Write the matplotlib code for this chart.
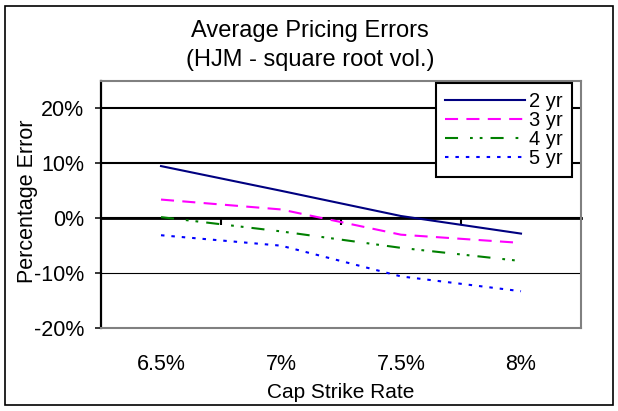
import matplotlib
matplotlib.use("Agg")
import matplotlib.pyplot as plt
from matplotlib.patches import Rectangle

plt.rcParams['font.family'] = ['Liberation Sans', 'DejaVu Sans']
plt.rcParams['lines.scale_dashes'] = False

# Data
strike_labels = ['6.5%', '7%', '7.5%', '8%']
err_2yr = [9.5, 5.0, 0.4, -2.8]
err_3yr = [3.4, 1.6, -3.0, -4.5]
err_4yr = [0.2, -2.4, -5.4, -7.8]
err_5yr = [-3.1, -5.0, -10.6, -13.3]
series_names = ['2 yr', '3 yr', '4 yr', '5 yr']
y_ticks = [-20, -10, 0, 10, 20]

FS = 15.5
fig = plt.figure(figsize=(6.18, 4.11), dpi=100)
ax = fig.add_axes([101/618, 1-328/411, 480/618, 247/411])

x = list(range(len(strike_labels)))
styles = [
    dict(color='#000080', linestyle='-'),
    dict(color='#FF00FF', linestyle=(0, (9.4, 6.0))),
    dict(color='#008000', linestyle=(0, (9.4, 8.6, 2.0, 5.0, 2.0, 5.8))),
    dict(color='#0000FF', linestyle=(0, (2.5, 5.0))),
]
for vals, name, st in zip([err_2yr, err_3yr, err_4yr, err_5yr], series_names, styles):
    ax.plot(x, vals, label=name, lw=1.5, **st)

ax.set_xlim(-0.5, len(strike_labels) - 0.5)
ax.set_ylim(-20, 25)
ax.set_yticks(y_ticks)
ax.set_yticklabels([f'{v}%' for v in y_ticks], fontsize=FS)
ax.set_xticks(x)
ax.set_xticklabels(strike_labels, fontsize=FS)
ax.tick_params(axis='x', length=0, pad=18.5)
ax.tick_params(axis='y', direction='out', length=4.3, width=1.1, pad=8, color='black')

ax.yaxis.grid(True, color='black', lw=1.5)
ax.set_axisbelow(True)
for gl, v in zip(ax.get_ygridlines(), y_ticks):
    if v == -10:
        gl.set_linewidth(0.8)
    if v == -20:
        gl.set_visible(False)

for s in ['top', 'right', 'bottom']:
    ax.spines[s].set_color('#808080')
    ax.spines[s].set_linewidth(1.5)
ax.spines['left'].set_color('black')
ax.spines['left'].set_linewidth(1.6)

# category axis line at 0%
sec = ax.secondary_xaxis(20/45)
sec.set_xticks([i + 0.5 for i in x[:-1]])
sec.set_xticklabels([])
sec.tick_params(direction='out', length=5, width=1.5, color='black')
sec.spines['bottom'].set_color('black')
sec.spines['bottom'].set_linewidth(2.0)

ax.set_xlabel('Cap Strike Rate', fontsize=15)
ax.xaxis.set_label_coords(0.5, -0.222)
ax.xaxis.label.set_va('top')
ax.set_ylabel('Percentage Error', fontsize=15.5)
ax.yaxis.set_label_coords(-0.131, 0.514)

fig.text(310/618, 1-31/411, 'Average Pricing Errors', fontsize=17, ha='center', va='center')
fig.text(310/618, 1-60/411, '(HJM - square root vol.)', fontsize=17, ha='center', va='center')

leg = ax.legend(loc='upper right', bbox_to_anchor=(471/480, 1 - 2/247),
                fontsize=14.5, frameon=True, fancybox=False, framealpha=1,
                edgecolor='black', handlelength=4.0, handletextpad=0.2,
                labelspacing=0.0, borderpad=0.45, borderaxespad=0)
leg.get_frame().set_linewidth(1.5)
leg.set_zorder(5)

fig.patches.append(Rectangle((5/618, 1-405/411), 608/618, 399/411, transform=fig.transFigure,
                             fill=False, edgecolor='black', lw=1.2))

fig.savefig('out.png', dpi=100)
